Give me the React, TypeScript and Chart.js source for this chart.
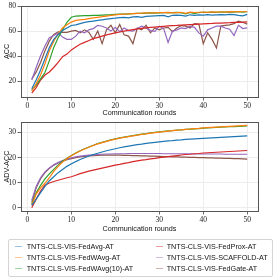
import React, { useEffect, useRef } from "react";
import Chart from "chart.js/auto";

const rounds = [
  1, 2, 3, 4, 5, 6, 7, 8, 9, 10, 11, 12, 13, 14, 15, 16, 17, 18, 19, 20, 21, 22, 23, 24, 25,
  26, 27, 28, 29, 30, 31, 32, 33, 34, 35, 36, 37, 38, 39, 40, 41, 42, 43, 44, 45, 46, 47, 48, 49, 50,
];
const xTicks = [0, 10, 20, 30, 40, 50];
const accTicks = [20, 40, 60, 80];
const advTicks = [0, 10, 20, 30];

const seriesNames = [
  "TNTS-CLS-VIS-FedAvg-AT",
  "TNTS-CLS-VIS-FedWAvg-AT",
  "TNTS-CLS-VIS-FedWAvg(10)-AT",
  "TNTS-CLS-VIS-FedProx-AT",
  "TNTS-CLS-VIS-SCAFFOLD-AT",
  "TNTS-CLS-VIS-FedGate-AT",
];
const colors = ["#1f77b4", "#ff7f0e", "#2ca02c", "#d62728", "#9467bd", "#8c564b"];
const legendColors = [
  "rgba(31,119,180,0.45)",
  "rgba(255,127,14,0.45)",
  "rgba(44,160,44,0.45)",
  "rgba(214,39,40,0.45)",
  "rgba(148,103,189,0.45)",
  "rgba(140,86,75,0.45)",
];

// ACC
const accFedAvg = [
  14, 21, 29, 38, 47, 53.4, 57.3, 60.4, 62.5, 64.5, 65, 66, 67, 67.5, 68, 68.5, 69, 69.5, 70, 70.3,
  70.8, 71, 70.6, 71.3, 71.6, 71, 71.8, 72, 72.2, 72.4, 72.5, 71.3, 72.6, 72.8, 72.6, 72, 73, 72.5, 73, 72.8,
  73.1, 72.7, 73, 73.2, 72.9, 73.3, 73.1, 72.6, 72.2, 73.3,
];
const accFedWAvg = [
  12.3, 18, 25, 34, 44.3, 52, 57.8, 62.5, 65, 67.2, 68.5, 69, 69.3, 70, 70.5, 71, 71.5, 72, 72.5, 73,
  73.3, 73.5, 73.7, 74, 74.2, 74.3, 74.5, 74.6, 74.5, 74.8, 74.7, 74.9, 74.6, 74.8, 75, 74.2, 75.1, 74.8, 75, 75.2,
  75, 75.3, 75.1, 75.4, 75.2, 75.5, 75.3, 75.6, 75.4, 75.6,
];
const accFedWAvg10 = [
  13, 17, 22, 27, 36.5, 47, 54.7, 61, 67, 71, 72, 72.2, 72.3, 72.4, 72.5, 72.6, 72.8, 73, 73.1, 73.3,
  73.5, 73.6, 73.8, 74, 74.2, 74.1, 74.3, 74.5, 74.4, 74.6, 74.8, 74.5, 74.7, 74.9, 74.6, 73.8, 74.9, 74, 74.8, 75,
  74.9, 75.1, 75, 75.2, 75.1, 75.3, 75.2, 75.4, 75.2, 75.4,
];
const accFedProx = [
  10.5, 15, 21, 25, 27.4, 31, 35, 39.6, 41.7, 45, 47.4, 49.5, 51, 52.5, 54, 55, 56, 57, 57.8, 58.6,
  59.3, 60, 60.6, 61.2, 61.7, 62.1, 62.5, 62.9, 63.2, 63.5, 63.8, 64.1, 64.3, 64.5, 64.8, 65, 65.2, 65.4, 65.6, 65.8,
  66, 66.1, 66.3, 66.4, 66.6, 66.7, 66.9, 67, 67.1, 67.3,
];
const accScaffold = [
  21, 31, 40.4, 48.2, 54.7, 56.5, 58.6, 55.2, 53.4, 53.4, 56, 60, 58.6, 61, 62, 64.6, 63.9, 62.5, 60, 63,
  59.5, 62.5, 60.4, 60, 62, 64, 62.5, 60.4, 59.8, 63.9, 62, 51, 60, 61, 62.5, 62, 64, 63, 58.6, 56,
  61, 62.5, 64, 64, 62.5, 61.5, 56.5, 64.6, 62, 62.5,
];
const accFedGate = [
  22, 27.3, 35, 44.3, 52, 57.3, 59.4, 59, 59, 60, 60.5, 58.6, 61, 59, 53.4, 60, 50, 61, 64.6, 58.6,
  65.3, 57, 56, 50, 62.5, 61, 64.6, 58.6, 62.5, 61, 62.5, 63, 59.5, 62.5, 64.4, 64, 62.5, 66, 65.6, 50,
  58.6, 53.4, 46.5, 64, 64.6, 65, 66, 68, 67, 65.6,
];

// ADV-ACC
const advFedAvg = [
  1, 3.5, 6.1, 8.6, 10.8, 12.4, 14, 15.3, 16.5, 17.5, 18.4, 19.2, 19.9, 20.6, 21.2, 21.7, 22.2, 22.7, 23.1, 23.5,
  23.9, 24.2, 24.5, 24.8, 25.1, 25.3, 25.6, 25.8, 26, 26.2, 26.4, 26.6, 26.7, 26.9, 27, 27.2, 27.3, 27.4, 27.5, 27.6,
  27.7, 27.8, 27.9, 28, 28.1, 28.2, 28.3, 28.4, 28.5, 28.6,
];
const advFedWAvg = [
  1.2, 5.5, 8, 9.8, 12, 14.5, 16.5, 18.2, 19.6, 20.7, 21.7, 22.6, 23.4, 24.1, 24.8, 25.4, 25.9, 26.4, 26.9, 27.3,
  27.7, 28, 28.3, 28.6, 28.9, 29.2, 29.4, 29.7, 29.9, 30.1, 30.3, 30.5, 30.7, 30.9, 31, 31.2, 31.3, 31.5, 31.6, 31.8,
  31.9, 32, 32.1, 32.2, 32.3, 32.4, 32.5, 32.6, 32.7, 32.8,
];
const advFedWAvg10 = [
  1.5, 6, 9, 11.5, 13.5, 15.3, 17, 18.5, 19.7, 20.8, 21.8, 22.7, 23.5, 24.2, 24.9, 25.5, 26, 26.5, 27, 27.4,
  27.8, 28.1, 28.4, 28.7, 29, 29.3, 29.5, 29.8, 30, 30.2, 30.4, 30.6, 30.7, 30.9, 31, 31.2, 31.3, 31.4, 31.5, 31.7,
  31.8, 31.9, 32, 32.1, 32.2, 32.3, 32.3, 32.4, 32.5, 32.6,
];
const advFedProx = [
  0.1, 3.5, 6.7, 9, 9.9, 10.5, 11, 11.5, 12, 12.4, 13, 13.6, 14.1, 14.6, 15, 15.4, 15.8, 16.2, 16.6, 17,
  17.3, 17.7, 18, 18.4, 18.7, 19, 19.2, 19.5, 19.7, 20, 20.2, 20.4, 20.6, 20.8, 21, 21.2, 21.3, 21.5, 21.6, 21.8,
  21.9, 22, 22.1, 22.2, 22.3, 22.4, 22.5, 22.6, 22.7, 22.8,
];
const advScaffold = [
  3, 8.5, 12, 14.3, 15.9, 17.1, 18, 18.8, 19.4, 19.9, 20.3, 20.6, 20.8, 21, 21.1, 21.2, 21.3, 21.4, 21.4, 21.5,
  21.5, 21.5, 21.6, 21.6, 21.6, 21.6, 21.6, 21.6, 21.6, 21.6, 21.5, 21.5, 21.5, 21.5, 21.5, 21.5, 21.5, 21.4, 21.4, 21.4,
  21.4, 21.4, 21.4, 21.4, 21.3, 21.3, 21.3, 21.3, 21.3, 21.3,
];
const advFedGate = [
  2.2, 8, 11.6, 14, 15.7, 17, 17.9, 18.6, 19.2, 19.6, 20, 20.3, 20.5, 20.7, 20.8, 20.9, 21, 21, 21, 21,
  21, 20.9, 20.9, 20.8, 20.8, 20.7, 20.7, 20.6, 20.6, 20.5, 20.4, 20.4, 20.3, 20.3, 20.2, 20.2, 20.1, 20.1, 20, 20,
  19.9, 19.9, 19.8, 19.8, 19.7, 19.7, 19.6, 19.6, 19.5, 19.4,
];

const accSeries = [accFedAvg, accFedWAvg, accFedWAvg10, accFedProx, accScaffold, accFedGate];
const advSeries = [advFedAvg, advFedWAvg, advFedWAvg10, advFedProx, advScaffold, advFedGate];

const sansFont = "'Liberation Sans', Arial, sans-serif";
const serifFont = "'Liberation Serif', 'Times New Roman', serif";

const boxPlugin = {
  id: "boxSpines",
  afterDraw(chart: any) {
    const { ctx, chartArea } = chart;
    ctx.save();
    ctx.strokeStyle = "#555";
    ctx.lineWidth = 1;
    ctx.strokeRect(
      Math.round(chartArea.left) + 0.5,
      Math.round(chartArea.top) + 0.5,
      Math.round(chartArea.right - chartArea.left),
      Math.round(chartArea.bottom - chartArea.top)
    );
    ctx.restore();
  },
};

function makeConfig(
  series: number[][],
  yMin: number,
  yMax: number,
  yTicks: number[],
  yTitle: string,
  xAxisHeight: number
): any {
  return {
    type: "line",
    data: {
      datasets: series.map((vals, i) => ({
        label: seriesNames[i],
        data: rounds.map((r, j) => ({ x: r, y: vals[j] })),
        borderColor: colors[i],
        backgroundColor: colors[i],
        borderWidth: 1.2,
        pointRadius: 0,
        tension: 0,
        fill: false,
      })),
    },
    options: {
      responsive: false,
      animation: false,
      events: [],
      layout: { padding: { left: 0, right: 16, top: 4, bottom: 0 } },
      plugins: { legend: { display: false }, tooltip: { enabled: false } },
      scales: {
        x: {
          type: "linear",
          min: -1.45,
          max: 52.45,
          afterBuildTicks: (a: any) => {
            a.ticks = xTicks.map((v) => ({ value: v }));
          },
          afterFit: (s: any) => {
            s.height = xAxisHeight;
          },
          grid: { color: "#e8e8e8", lineWidth: 0.8, tickColor: "#444", tickLength: 3.5 },
          border: { display: false },
          ticks: {
            font: { family: serifFont, size: 7.5 },
            color: "#222",
            padding: 1,
            maxRotation: 0,
            autoSkip: false,
          },
          title: {
            display: true,
            text: "Communication rounds",
            font: { family: sansFont, size: 7.2 },
            color: "#111",
            padding: { top: 0, bottom: 3 },
          },
        },
        y: {
          type: "linear",
          min: yMin,
          max: yMax,
          afterBuildTicks: (a: any) => {
            a.ticks = yTicks.map((v) => ({ value: v }));
          },
          afterFit: (s: any) => {
            s.width = 21;
          },
          grid: { color: "#e8e8e8", lineWidth: 0.8, tickColor: "#444", tickLength: 3.5 },
          border: { display: false },
          ticks: {
            font: { family: serifFont, size: 7.5 },
            color: "#222",
            padding: 1.5,
            autoSkip: false,
          },
          title: {
            display: true,
            text: yTitle,
            font: { family: sansFont, size: 7.2 },
            color: "#111",
            padding: { top: 3, bottom: 0 },
          },
        },
      },
    },
    plugins: [boxPlugin],
  };
}

export default function App() {
  const topRef = useRef<HTMLCanvasElement>(null);
  const botRef = useRef<HTMLCanvasElement>(null);

  useEffect(() => {
    const c1 = new Chart(topRef.current as HTMLCanvasElement, makeConfig(accSeries, 7.5, 80, accTicks, "ACC", 23));
    const c2 = new Chart(botRef.current as HTMLCanvasElement, makeConfig(advSeries, -1.2, 34.1, advTicks, "ADV-ACC", 25));
    return () => {
      c1.destroy();
      c2.destroy();
    };
  }, []);

  const rowY = [246.7, 257.5, 268.7];
  const colMarkerX = [15, 156];
  const colTextX = [26.7, 166.7];

  return (
    <div
      style={{
        position: "fixed",
        left: 0,
        top: 0,
        width: 274,
        height: 279,
        background: "#fff",
        overflow: "hidden",
      }}
    >
      <canvas ref={topRef} width={274} height={120} style={{ position: "absolute", left: 0, top: 0, display: "block" }} />
      <canvas ref={botRef} width={274} height={120} style={{ position: "absolute", left: 0, top: 116, display: "block" }} />
      <div
        style={{
          position: "absolute",
          left: 8,
          top: 239,
          width: 265,
          height: 38,
          border: "1px solid #d4d4d4",
          borderRadius: 2,
          boxSizing: "border-box",
        }}
      />
      {seriesNames.map((name, i) => {
        const col = Math.floor(i / 3);
        const row = i % 3;
        return (
          <React.Fragment key={name}>
            <div
              style={{
                position: "absolute",
                left: colMarkerX[col],
                top: rowY[row] - 0.75,
                width: 7,
                height: 1.5,
                background: legendColors[i],
              }}
            />
            <span
              style={{
                position: "absolute",
                left: colTextX[col],
                top: rowY[row] - 4.5,
                fontFamily: sansFont,
                fontSize: "7.2px",
                lineHeight: "9px",
                color: "#111",
                whiteSpace: "nowrap",
              }}
            >
              {name}
            </span>
          </React.Fragment>
        );
      })}
    </div>
  );
}
